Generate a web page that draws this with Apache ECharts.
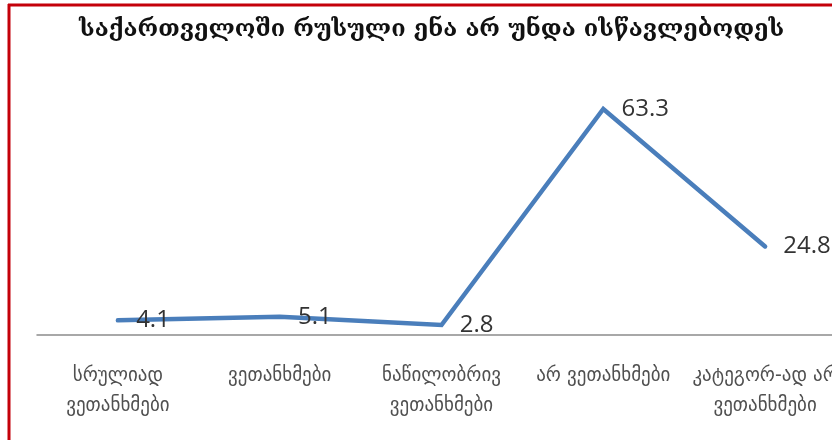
<!DOCTYPE html>
<html>
<head>
<meta charset="utf-8">
<script src="https://cdn.jsdelivr.net/npm/echarts@6/dist/echarts.min.js"></script>
<style>
html,body{margin:0;padding:0;background:#fff;}
#chart{width:832px;height:440px;}
</style>
</head>
<body>
<div id="chart"></div>
<script>
const titleText = 'საქართველოში რუსული ენა არ უნდა ისწავლებოდეს';
const categories = [
  'სრულიად\nვეთანხმები',
  'ვეთანხმები',
  'ნაწილობრივ\nვეთანხმები',
  'არ ვეთანხმები',
  'კატეგორ-ად არ\nვეთანხმები'
];
const values = [4.1, 5.1, 2.8, 63.3, 24.8];

const chart = echarts.init(document.getElementById('chart'));
chart.setOption({
  backgroundColor: '#ffffff',
  animation: false,
  title: {
    text: titleText,
    left: 74,
    top: 13,
    textStyle: {
      fontFamily: 'DejaVu Serif',
      fontWeight: 'bold',
      fontSize: 23.5,
      color: '#111'
    }
  },
  grid: { left: 37, width: 809, top: 85, bottom: 105, containLabel: false, outerBoundsMode: 'none' },
  xAxis: {
    type: 'category',
    data: categories,
    boundaryGap: true,
    axisLine: { show: true, lineStyle: { color: '#8c8c8c', width: 1.5 } },
    axisTick: { show: false },
    axisLabel: {
      interval: 0,
      margin: 26,
      fontFamily: 'DejaVu Sans',
      fontSize: 19,
      lineHeight: 30,
      color: '#505050'
    }
  },
  yAxis: {
    type: 'value',
    min: 0,
    max: 70,
    show: false,
    splitLine: { show: false }
  },
  series: [{
    type: 'line',
    data: values,
    symbol: 'circle',
    symbolSize: 0.5,
    itemStyle: { color: '#4a7ebb' },
    lineStyle: { color: '#4a7ebb', width: 4.5, cap: 'round', join: 'miter' },
    label: {
      show: true,
      position: 'right',
      distance: 18,
      fontFamily: 'Open Sans',
      fontSize: 24,
      color: '#333'
    }
  }],
  graphic: [
    { type: 'line', shape: { x1: 9, y1: 4, x2: 9, y2: 440 }, style: { stroke: '#c4000a', lineWidth: 3 }, z: 100 },
    { type: 'line', shape: { x1: 8, y1: 5, x2: 832, y2: 5 }, style: { stroke: '#c4000a', lineWidth: 3 }, z: 100 }
  ]
});
</script>
</body>
</html>
